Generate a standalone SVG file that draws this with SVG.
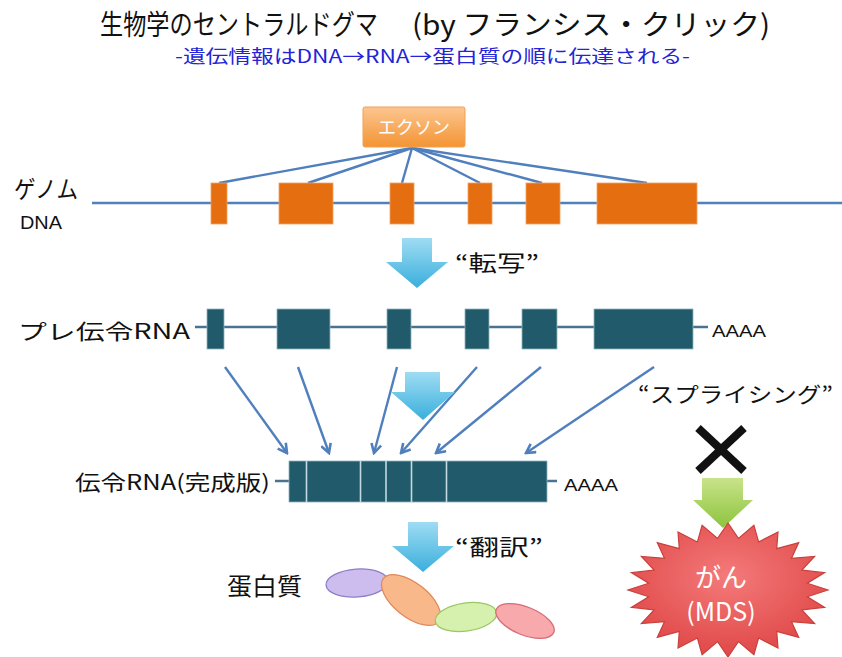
<svg xmlns="http://www.w3.org/2000/svg" width="842" height="657" viewBox="0 0 842 657">
  <defs>
    <style>
      .jp { font-family: "Noto Sans CJK JP", "Liberation Sans", sans-serif; }
      .lat { font-family: "Liberation Sans", "Noto Sans CJK JP", sans-serif; }
      .dna { stroke: #4f81bd; stroke-width: 2.5; fill: none; }
      .exon { fill: #e56f10; stroke: #f2a060; stroke-width: 0.8; }
      .rnaline { stroke: #4b7390; stroke-width: 2.5; fill: none; }
      .rna { fill: #215a6a; stroke: #8fb4c0; stroke-width: 0.8; }
      .link { stroke: #4f7fbd; stroke-width: 2.4; fill: none; }
      .splice { stroke: #4f7fbd; stroke-width: 2.4; fill: none; marker-end: url(#vhead); }
      .div { stroke: #c3dae2; stroke-width: 1.6; }
    </style>
    <marker id="vhead" viewBox="0 0 12 12" refX="10" refY="6" markerWidth="5" markerHeight="5" orient="auto" markerUnits="strokeWidth">
      <path d="M1,1 L10,6 L1,11" fill="none" stroke="#4f7fbd" stroke-width="2.6" stroke-linejoin="miter"/>
    </marker>
    <linearGradient id="gExonBox" x1="0" y1="0" x2="0" y2="1">
      <stop offset="0" stop-color="#fcc690"/>
      <stop offset="1" stop-color="#f39434"/>
    </linearGradient>
    <linearGradient id="gBlue" x1="0" y1="0" x2="0" y2="1">
      <stop offset="0" stop-color="#9fdcf3"/>
      <stop offset="1" stop-color="#3aafdc"/>
    </linearGradient>
    <linearGradient id="gGreen" x1="0" y1="0" x2="0" y2="1">
      <stop offset="0" stop-color="#c9e38b"/>
      <stop offset="1" stop-color="#8cc43c"/>
    </linearGradient>
    <radialGradient id="gRed" cx="0.5" cy="0.4" r="0.6">
      <stop offset="0" stop-color="#f47a7a"/>
      <stop offset="1" stop-color="#e04848"/>
    </radialGradient>
    <path id="downArrow" d="M-15,0 H15 V24 H31 L0,50 L-31,24 H-15 Z"/>
  </defs>

  <rect width="842" height="657" fill="#ffffff"/>

  <!-- title -->
  <g id="title">
    <text class="jp" x="100" y="35" font-size="28" fill="#111" textLength="278" lengthAdjust="spacingAndGlyphs">生物学のセントラルドグマ</text>
    <text class="jp" x="412" y="35" font-size="28" fill="#111" textLength="358" lengthAdjust="spacingAndGlyphs">(by フランシス・クリック)</text>
    <text class="jp" x="175" y="63" font-size="18" fill="#2424d6" textLength="515" lengthAdjust="spacingAndGlyphs">-遺伝情報はDNA→RNA→蛋白質の順に伝達される-</text>
  </g>

  <!-- row labels -->
  <g id="labels">
    <text class="jp" x="14" y="198" font-size="24" fill="#111" textLength="64" lengthAdjust="spacingAndGlyphs">ゲノム</text>
    <text class="lat" x="20" y="229" font-size="19" fill="#111" textLength="42" lengthAdjust="spacingAndGlyphs">DNA</text>
    <text class="jp" x="18" y="339" font-size="21" fill="#111" textLength="172" lengthAdjust="spacingAndGlyphs">プレ伝令RNA</text>
    <text class="jp" x="75" y="490" font-size="21" fill="#111" textLength="195" lengthAdjust="spacingAndGlyphs">伝令RNA(完成版)</text>
    <text class="jp" x="227" y="595" font-size="24" fill="#111" textLength="75" lengthAdjust="spacingAndGlyphs">蛋白質</text>
  </g>

  <!-- connectors -->
  <g id="connectors">
    <!-- exon label to each exon -->
    <line class="link" x1="412" y1="148" x2="219" y2="183"/>
    <line class="link" x1="412" y1="148" x2="308" y2="183"/>
    <line class="link" x1="412" y1="148" x2="402" y2="183"/>
    <line class="link" x1="412" y1="148" x2="480" y2="183"/>
    <line class="link" x1="412" y1="148" x2="542" y2="183"/>
    <line class="link" x1="412" y1="148" x2="647" y2="183"/>
    <!-- exons joined in the mature RNA -->
    <line class="splice" x1="225" y1="367" x2="287" y2="453"/>
    <line class="splice" x1="298" y1="367" x2="329" y2="453"/>
    <line class="splice" x1="397" y1="367" x2="374" y2="453"/>
    <line class="splice" x1="477" y1="367" x2="401" y2="453"/>
    <line class="splice" x1="541" y1="367" x2="436" y2="453"/>
    <line class="splice" x1="654" y1="367" x2="526" y2="453"/>
  </g>

  <!-- genome DNA -->
  <g id="genome">
    <line class="dna" x1="92" y1="203" x2="842" y2="203"/>
    <rect class="exon" x="211" y="183" width="16" height="41"/>
    <rect class="exon" x="279" y="183" width="54" height="41"/>
    <rect class="exon" x="390" y="183" width="24" height="41"/>
    <rect class="exon" x="468" y="183" width="24" height="41"/>
    <rect class="exon" x="526" y="183" width="34" height="41"/>
    <rect class="exon" x="597" y="183" width="100" height="41"/>
  </g>

  <!-- exon label box -->
  <g id="exon-label">
    <rect x="363" y="107" width="102" height="40" rx="2" fill="url(#gExonBox)" stroke="#f0a252" stroke-width="1"/>
    <text class="jp" x="414" y="134" font-size="18" fill="#ffffff" text-anchor="middle">エクソン</text>
  </g>

  <!-- transcription -->
  <g id="transcription">
    <use href="#downArrow" x="417" y="238" fill="url(#gBlue)"/>
    <text class="jp" x="455" y="271" font-size="22" fill="#111" textLength="84" lengthAdjust="spacingAndGlyphs">“転写”</text>
  </g>

  <!-- pre-mRNA -->
  <g id="pre-mrna">
    <line class="rnaline" x1="195" y1="327" x2="708" y2="327"/>
    <rect class="rna" x="207" y="309" width="17" height="40"/>
    <rect class="rna" x="277" y="309" width="53" height="40"/>
    <rect class="rna" x="387" y="309" width="24" height="40"/>
    <rect class="rna" x="465" y="309" width="24" height="40"/>
    <rect class="rna" x="522" y="309" width="35" height="40"/>
    <rect class="rna" x="594" y="309" width="99" height="40"/>
    <text class="lat" x="712" y="337" font-size="17" fill="#111" textLength="54" lengthAdjust="spacingAndGlyphs">AAAA</text>
  </g>

  <!-- splicing arrow -->
  <g id="splicing-arrow">
    <path d="M405,372 H440 V392 H455 L423,420 L391,392 H405 Z" fill="url(#gBlue)"/>
  </g>

  <!-- mature mRNA -->
  <g id="mrna">
    <line class="rnaline" x1="275" y1="481" x2="289" y2="481"/>
    <line class="rnaline" x1="547" y1="481" x2="557" y2="481"/>
    <rect class="rna" x="289" y="461" width="258" height="41"/>
    <line class="div" x1="306.5" y1="461" x2="306.5" y2="502"/>
    <line class="div" x1="360.5" y1="461" x2="360.5" y2="502"/>
    <line class="div" x1="386" y1="461" x2="386" y2="502"/>
    <line class="div" x1="411.5" y1="461" x2="411.5" y2="502"/>
    <line class="div" x1="446.5" y1="461" x2="446.5" y2="502"/>
    <text class="lat" x="564" y="491" font-size="17" fill="#111" textLength="54" lengthAdjust="spacingAndGlyphs">AAAA</text>
  </g>

  <!-- translation -->
  <g id="translation">
    <use href="#downArrow" x="423" y="522" fill="url(#gBlue)"/>
    <text class="jp" x="455" y="555" font-size="22" fill="#111" textLength="88" lengthAdjust="spacingAndGlyphs">“翻訳”</text>
  </g>

  <!-- protein chain -->
  <g id="protein">
    <ellipse cx="357" cy="583" rx="31" ry="14" transform="rotate(-4 357 583)" fill="#cdbdee" stroke="#8f7fc6" stroke-width="1.3"/>
    <ellipse cx="411" cy="600" rx="35" ry="17" transform="rotate(38 411 600)" fill="#f9b88a" stroke="#e0895a" stroke-width="1.3"/>
    <ellipse cx="466" cy="617" rx="31" ry="14" transform="rotate(-8 466 617)" fill="#d6f1ad" stroke="#9cc664" stroke-width="1.3"/>
    <ellipse cx="525" cy="621" rx="31" ry="14" transform="rotate(22 525 621)" fill="#f7a9ac" stroke="#d66c74" stroke-width="1.3"/>
  </g>

  <!-- splicing failure leads to cancer -->
  <g id="splicing-label">
    <text class="jp" x="638" y="402" font-size="21" fill="#111" textLength="195" lengthAdjust="spacingAndGlyphs">“スプライシング”</text>
  </g>
  <g id="cross">
    <line x1="698" y1="428" x2="744" y2="471" stroke="#111" stroke-width="8"/>
    <line x1="744" y1="428" x2="698" y2="471" stroke="#111" stroke-width="8"/>
  </g>
  <g id="green-arrow">
    <path d="M702,478 H743 V500 H753 L723,528 L693,500 H702 Z" fill="url(#gGreen)"/>
  </g>
  <g id="cancer">
    <polygon fill="url(#gRed)" stroke="#c8403c" stroke-width="1.2" stroke-linejoin="miter"
      points="828,590 807.3,596.8 824.6,607.3 801.9,609.9 814.6,623.5 791.5,621.7 798.7,637.4 776.7,631.3 778,648 758.6,638 753.9,654.7 738.4,641.6 728,657 717.6,641.6 702.1,654.7 697.4,638 678,648 679.3,631.3 657.3,637.4 664.5,621.7 641.4,623.5 654.1,609.9 631.4,607.3 648.7,596.8 628,590 648.7,583.2 631.4,572.7 654.1,570.1 641.4,556.5 664.5,558.3 657.3,542.6 679.3,548.7 678,532 697.4,542 702.1,525.3 717.6,538.4 728,523 738.4,538.4 753.9,525.3 758.6,542 778,532 776.7,548.7 798.7,542.6 791.5,558.3 814.6,556.5 801.9,570.1 824.6,572.7 807.3,583.2"/>
    <text class="jp" x="721" y="587" font-size="26" fill="#ffffff" text-anchor="middle">がん</text>
    <text class="jp" x="721" y="621" font-size="25" fill="#ffffff" text-anchor="middle">(MDS)</text>
  </g>
</svg>
